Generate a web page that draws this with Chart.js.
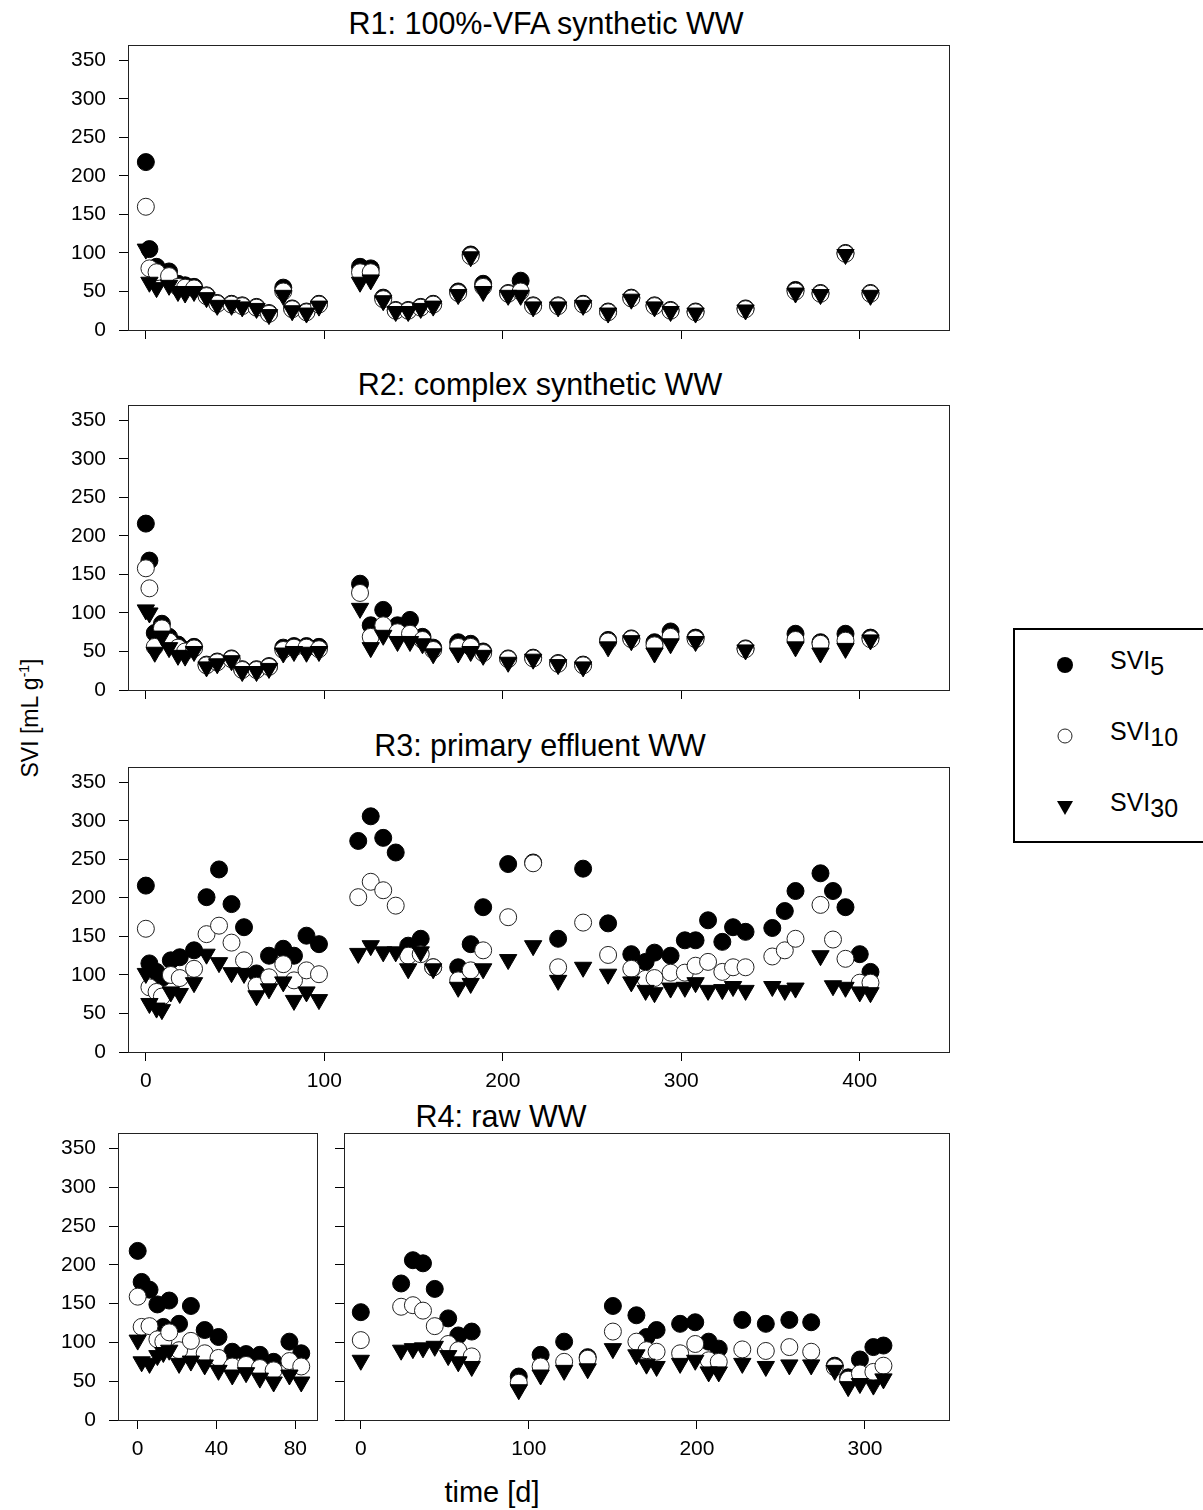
<!DOCTYPE html>
<html>
<head>
<meta charset="utf-8">
<script src="https://cdn.jsdelivr.net/npm/chart.js@4.4.0/dist/chart.umd.min.js"></script>
<style>
  body { margin: 0; background: #fff; }
  #page { position: relative; width: 1203px; height: 1510px; background: #fff; overflow: hidden;
          font-family: "Liberation Sans", Arial, sans-serif; color: #000; }
  .panel { position: absolute; }
  .title { position: absolute; font-size: 30.5px; white-space: nowrap; transform: translate(-50%, -50%); }
  #ylabel { position: absolute; left: 30px; top: 718px; font-size: 23px; white-space: nowrap;
            transform: translate(-50%, -50%) rotate(-90deg); }
  #ylabel sup { font-size: 14px; vertical-align: 9px; }
  #xlabel { position: absolute; left: 492px; top: 1492px; font-size: 29px; transform: translate(-50%, -50%); }
  #legend { position: absolute; left: 1013px; top: 628px; width: 200px; height: 211px; border: 2px solid #000; }
  .row { position: absolute; left: 0; height: 40px; width: 200px; }
  .row svg { position: absolute; left: 39px; top: 10px; }
  .row span { position: absolute; left: 95px; top: 2px; font-size: 25px; }
  .row sub { font-size: 25px; vertical-align: -6px; }
</style>
</head>
<body>
<div id="page">
  <div class="title" style="left:546px;top:23px">R1: 100%-VFA synthetic WW</div>
  <div class="title" style="left:540px;top:384px">R2: complex synthetic WW</div>
  <div class="title" style="left:540px;top:745px">R3: primary effluent WW</div>
  <div class="title" style="left:501px;top:1116px">R4: raw WW</div>
  <div id="ylabel">SVI [mL g<sup>-1</sup>]</div>
  <div id="xlabel">time [d]</div>
  <div id="legend"></div>
</div>
<script>
// axis ticks
const yTicks = [0, 50, 100, 150, 200, 250, 300, 350];
const xTicksLong = [0, 100, 200, 300, 400];
const xTicksR4a = [0, 40, 80];
const xTicksR4b = [0, 100, 200, 300];

const seriesNames = ['SVI', 'SVI', 'SVI'];
const seriesSubs = ['5', '10', '30'];

// R1: 100%-VFA synthetic WW
const r1Days = [0, 2, 6, 13, 18, 22, 27, 34, 40, 48, 54, 62, 69, 77, 82, 90, 97, 120, 126, 133, 140, 147, 154, 161, 175, 182, 189, 203, 210, 217, 231, 245, 259, 272, 285, 294, 308, 336, 364, 378, 392, 406];
const r1Svi5 = [218, 105, 82, 76, 60, 58, 56, 45, 35, 34, 32, 30, 22, 55, 28, 24, 34, 82, 80, 42, 26, 26, 30, 34, 50, 98, 60, 48, 64, 32, 32, 34, 24, 42, 32, 26, 24, 28, 52, 48, 100, 48];
const r1Svi10 = [160, 80, 75, 70, 56, 55, 54, 44, 34, 33, 31, 29, 21, 50, 27, 23, 33, 75, 75, 40, 25, 25, 29, 33, 48, 96, 56, 47, 50, 31, 31, 33, 23, 41, 31, 25, 23, 27, 50, 47, 99, 47];
const r1Svi30 = [105, 62, 55, 58, 50, 48, 50, 42, 32, 32, 30, 28, 20, 45, 25, 22, 31, 62, 65, 38, 24, 24, 28, 31, 46, 95, 50, 45, 45, 30, 30, 32, 22, 40, 30, 24, 22, 26, 48, 46, 98, 45];

// R2: complex synthetic WW
const r2Days = [0, 2, 5, 9, 13, 18, 22, 27, 34, 40, 48, 54, 62, 69, 77, 83, 90, 97, 120, 126, 133, 141, 148, 155, 161, 175, 182, 189, 203, 217, 231, 245, 259, 272, 285, 294, 308, 336, 364, 378, 392, 406];
const r2Svi5 = [216, 168, 74, 86, 69, 59, 52, 56, 33, 37, 41, 27, 27, 31, 55, 57, 57, 56, 138, 84, 104, 84, 91, 69, 55, 62, 60, 50, 41, 42, 35, 33, 65, 67, 62, 76, 68, 54, 73, 62, 73, 68];
const r2Svi10 = [158, 132, 56, 80, 63, 55, 50, 54, 32, 36, 40, 26, 26, 30, 52, 55, 55, 53, 126, 69, 84, 75, 73, 65, 52, 56, 56, 48, 40, 41, 34, 32, 63, 66, 58, 69, 66, 53, 65, 60, 64, 66];
const r2Svi30 = [104, 100, 49, 70, 55, 45, 44, 50, 30, 34, 38, 24, 24, 28, 48, 50, 49, 50, 106, 55, 71, 63, 63, 60, 47, 48, 50, 45, 36, 40, 33, 30, 56, 64, 48, 60, 63, 52, 56, 48, 54, 65];

// R3: primary effluent WW
const r3Days = [0, 2, 6, 9, 14, 19, 27, 34, 41, 48, 55, 62, 69, 77, 83, 90, 97, 119, 126, 133, 140, 147, 154, 161, 175, 182, 189, 203, 217, 231, 245, 259, 272, 280, 285, 294, 302, 308, 315, 323, 329, 336, 351, 358, 364, 378, 385, 392, 400, 406];
const r3Svi5 = [216, 115, 104, 96, 119, 123, 132, 201, 237, 192, 162, 102, 125, 134, 125, 151, 140, 274, 306, 278, 259, 138, 147, 110, 110, 140, 188, 244, 246, 147, 238, 167, 127, 117, 129, 125, 145, 145, 171, 143, 162, 156, 161, 183, 209, 232, 209, 188, 127, 104];
const r3Svi10 = [160, 84, 78, 72, 100, 96, 108, 153, 164, 142, 119, 86, 97, 114, 93, 106, 101, 201, 221, 210, 190, 125, 127, 110, 93, 106, 132, 175, 245, 110, 168, 126, 108, 95, 96, 103, 103, 112, 117, 104, 110, 110, 124, 132, 147, 191, 146, 121, 90, 90];
const r3Svi30 = [102, 63, 57, 55, 78, 76, 90, 127, 116, 103, 102, 73, 82, 91, 67, 78, 68, 128, 138, 130, 130, 108, 130, 108, 84, 89, 108, 120, 138, 93, 110, 101, 91, 80, 77, 83, 84, 90, 80, 81, 85, 80, 85, 80, 83, 125, 86, 84, 78, 77];

// R4: raw WW, first run
const r4aDays = [0, 2, 6, 10, 13, 16, 21, 27, 34, 41, 48, 55, 62, 69, 77, 83];
const r4aSvi5 = [218, 178, 168, 149, 120, 154, 124, 147, 116, 107, 88, 85, 84, 75, 101, 86];
const r4aSvi10 = [159, 120, 121, 104, 101, 113, 90, 102, 86, 80, 69, 71, 67, 64, 76, 69];
const r4aSvi30 = [103, 75, 73, 83, 87, 90, 73, 76, 71, 64, 58, 61, 54, 49, 58, 49];

// R4: raw WW, second run
const r4bDays = [0, 24, 31, 37, 44, 52, 58, 66, 94, 107, 121, 135, 150, 164, 170, 176, 190, 199, 207, 213, 227, 241, 255, 268, 282, 290, 297, 305, 311];
const r4bSvi5 = [139, 176, 206, 202, 169, 131, 109, 114, 56, 84, 101, 81, 147, 135, 107, 116, 124, 126, 101, 92, 129, 124, 129, 126, 70, 55, 78, 94, 96];
const r4bSvi10 = [103, 146, 148, 141, 121, 98, 90, 82, 48, 69, 75, 79, 114, 101, 90, 88, 86, 98, 77, 75, 91, 89, 94, 88, 68, 52, 60, 62, 70];
const r4bSvi30 = [77, 90, 92, 93, 95, 83, 75, 69, 39, 58, 64, 66, 92, 84, 72, 69, 73, 77, 62, 62, 73, 69, 71, 71, 64, 43, 47, 45, 53];

const fontFamily = "'Liberation Sans', Arial, sans-serif";
const tickFont = { family: fontFamily, size: 21 };

// box round the plot area
const framePlugin = {
  id: 'frame',
  beforeDatasetsDraw(chart) {
    const { ctx, chartArea: a } = chart;
    ctx.save();
    ctx.strokeStyle = '#222';
    ctx.lineWidth = 1;
    ctx.strokeRect(a.left + 0.5, a.top + 0.5, a.right - a.left, a.bottom - a.top);
    ctx.restore();
  }
};

const toPoints = (days, values) => days.map((d, i) => ({ x: d, y: values[i] }));

const makePanel = ({ left, top, width, yWidth, plotH, xMin, xMax, xTicks, showX, showY, days, s5, s10, s30 }) => {
  const padTop = 30;
  const xHeight = 45;
  const $div = document.createElement('div');
  $div.className = 'panel';
  $div.style.left = left + 'px';
  $div.style.top = (top - padTop) + 'px';
  const $canvas = document.createElement('canvas');
  $canvas.width = width;
  $canvas.height = padTop + plotH + xHeight;
  $div.appendChild($canvas);
  document.getElementById('page').appendChild($div);

  new Chart($canvas, {
    type: 'scatter',
    data: {
      datasets: [
        { label: 'SVI5', data: toPoints(days, s5), pointStyle: 'circle', pointRadius: 8.5,
          backgroundColor: '#000', borderColor: '#000', borderWidth: 1, order: 3 },
        { label: 'SVI10', data: toPoints(days, s10), pointStyle: 'circle', pointRadius: 8.5,
          backgroundColor: '#fff', borderColor: '#222', borderWidth: 1, order: 2 },
        { label: 'SVI30', data: toPoints(days, s30), pointStyle: 'triangle', rotation: 180, pointRadius: 10,
          backgroundColor: '#000', borderColor: '#000', borderWidth: 1, order: 1 }
      ]
    },
    options: {
      responsive: false,
      animation: false,
      layout: { padding: { top: padTop, right: 9, bottom: 0, left: 0 } },
      plugins: { legend: { display: false }, tooltip: { enabled: false } },
      scales: {
        x: {
          type: 'linear', min: xMin, max: xMax,
          afterBuildTicks: (scale) => { scale.ticks = xTicks.map(v => ({ value: v })); },
          afterFit: (scale) => { scale.height = xHeight; },
          grid: { drawOnChartArea: false, drawTicks: true, tickLength: 9, color: '#000' },
          border: { color: '#222' },
          ticks: { display: showX, font: tickFont, color: '#000', padding: 8, maxRotation: 0 }
        },
        y: {
          min: 0, max: 370,
          afterBuildTicks: (scale) => { scale.ticks = yTicks.map(v => ({ value: v })); },
          afterFit: (scale) => { scale.width = yWidth; },
          grid: { drawOnChartArea: false, drawTicks: true, tickLength: 9, color: '#000' },
          border: { color: '#222' },
          ticks: { display: showY, font: tickFont, color: '#000', padding: 13 }
        }
      }
    },
    plugins: [framePlugin]
  });
};

makePanel({ left: 0, top: 45, width: 960, yWidth: 128, plotH: 285, xMin: -10, xMax: 450, xTicks: xTicksLong,
  showX: false, showY: true, days: r1Days, s5: r1Svi5, s10: r1Svi10, s30: r1Svi30 });
makePanel({ left: 0, top: 405, width: 960, yWidth: 128, plotH: 285, xMin: -10, xMax: 450, xTicks: xTicksLong,
  showX: false, showY: true, days: r2Days, s5: r2Svi5, s10: r2Svi10, s30: r2Svi30 });
makePanel({ left: 0, top: 767, width: 960, yWidth: 128, plotH: 285, xMin: -10, xMax: 450, xTicks: xTicksLong,
  showX: true, showY: true, days: r3Days, s5: r3Svi5, s10: r3Svi10, s30: r3Svi30 });
makePanel({ left: 0, top: 1133, width: 328, yWidth: 118, plotH: 287, xMin: -10, xMax: 91, xTicks: xTicksR4a,
  showX: true, showY: true, days: r4aDays, s5: r4aSvi5, s10: r4aSvi10, s30: r4aSvi30 });
makePanel({ left: 324, top: 1133, width: 636, yWidth: 20, plotH: 287, xMin: -10, xMax: 350, xTicks: xTicksR4b,
  showX: true, showY: false, days: r4bDays, s5: r4bSvi5, s10: r4bSvi10, s30: r4bSvi30 });

// legend
const markers = [
  '<svg width="22" height="22"><circle cx="11" cy="11" r="8" fill="#000"/></svg>',
  '<svg width="22" height="22"><circle cx="11" cy="11" r="7" fill="#fff" stroke="#222" stroke-width="1"/></svg>',
  '<svg width="22" height="22"><polygon points="3,5 19,5 11,19" fill="#000"/></svg>'
];
const $legend = document.getElementById('legend');
const rowTops = [14, 85, 156];
for (let i = 0; i < seriesNames.length; i++) {
  const $row = document.createElement('div');
  $row.className = 'row';
  $row.style.top = rowTops[i] + 'px';
  $row.innerHTML = markers[i] + '<span>' + seriesNames[i] + '<sub>' + seriesSubs[i] + '</sub></span>';
  $legend.appendChild($row);
}
</script>
</body>
</html>
